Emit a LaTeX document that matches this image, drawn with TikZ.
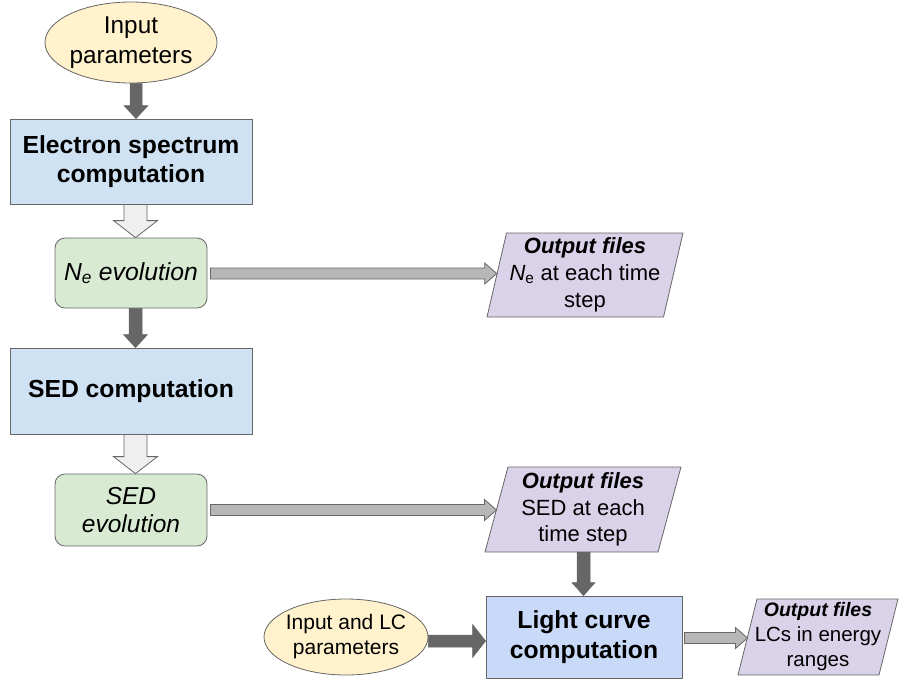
\documentclass[tikz,border=0pt]{standalone}
\usepackage{fontspec}
\setmainfont{Liberation Sans}
\usetikzlibrary{shapes.geometric,calc}
\definecolor{yel}{HTML}{FFF2CC}
\definecolor{blu}{HTML}{CFE2F3}
\definecolor{blu2}{HTML}{C9DAF8}
\definecolor{grn}{HTML}{D9EAD3}
\definecolor{pur}{HTML}{D9D2E9}
\definecolor{edge}{HTML}{666666}
\definecolor{dark}{HTML}{666666}
\definecolor{lite}{HTML}{EFEFEF}
\definecolor{gry}{HTML}{B7B7B7}
\tikzset{
 base/.style={draw=edge, line width=0.8pt, inner sep=0pt, align=center, font=\fontsize{24.7}{29.5}\selectfont},
 inell/.style={base, ellipse, fill=yel, inner sep=2pt},
 procbox/.style={base, rectangle, fill=blu},
 evbox/.style={base, rectangle, rounded corners=10pt, fill=grn},
 parfill/.style={draw=edge, line width=0.8pt, fill=pur},
 lbl/.style={inner sep=0pt, align=center},
 darkarr/.style={fill=dark, draw=dark, line width=0.5pt},
 lightarr/.style={fill=lite, draw=edge, line width=0.8pt},
 grayarr/.style={fill=gry, draw=edge, line width=0.8pt},
}
% parallelogram outline: name, cx, cy, w, h, slant
\newcommand{\outpara}[6]{%
\coordinate (#1bl) at ({#2-#4/2},{#3-#5/2});
\coordinate (#1br) at ({#2+#4/2-#6},{#3-#5/2});
\coordinate (#1tr) at ({#2+#4/2},{#3+#5/2});
\coordinate (#1tl) at ({#2-#4/2+#6},{#3+#5/2});
\draw[parfill] (#1bl) -- (#1tl) -- (#1tr) -- (#1br) -- cycle;
\coordinate (#1w) at ($(#1bl)!0.5!(#1tl)$);
\coordinate (#1s) at ($(#1bl)!0.5!(#1br)$);}
% vertical block arrow: style, from point, to point, dx, halfshaft, halfhead, headlen
\newcommand{\vblk}[7]{%
\draw[#1] let \p1=(#2), \p2=(#3) in
 (\x1+#4-#5,\y1) -- (\x1+#4-#5,\y2+#7) -- (\x1+#4-#6,\y2+#7) -- (\x1+#4,\y2)
 -- (\x1+#4+#6,\y2+#7) -- (\x1+#4+#5,\y2+#7) -- (\x1+#4+#5,\y1) -- cycle;}
% horizontal block arrow: style, from point, to point, dy, halfshaft, halfhead, headlen, startgap
\newcommand{\hblk}[8]{%
\draw[#1] let \p1=(#2), \p2=(#3) in
 (\x1+#8,\y1+#4+#5) -- (\x2-#7,\y1+#4+#5) -- (\x2-#7,\y1+#4+#6) -- (\x2,\y1+#4)
 -- (\x2-#7,\y1+#4-#6) -- (\x2-#7,\y1+#4-#5) -- (\x1+#8,\y1+#4-#5) -- cycle;}
\begin{document}
\begin{tikzpicture}[x=1pt,y=1pt]
\useasboundingbox (0,0) rectangle (899,-681);
% nodes
\node[inell, minimum width=172pt, minimum height=81pt,
 label={[lbl, font=\fontsize{24.3}{30}\selectfont]center:Input\\parameters}] (in1) at (131,-42.5) {\strut};
\node[procbox, minimum width=242pt, minimum height=85pt] (esc) at (131,-161.5)
 {\textbf{Electron spectrum}\\\textbf{computation}};
\node[evbox, minimum width=152pt, minimum height=70pt] (ne) at (131,-273)
 {\textit{N\textsubscript{e} evolution}};
\node[procbox, minimum width=242pt, minimum height=86pt] (sed) at (131,-391)
 {\textbf{SED computation}};
\node[evbox, minimum width=152pt, minimum height=72pt, font=\fontsize{24.5}{28}\selectfont] (sedev) at (131,-510)
 {\textit{SED}\\\textit{evolution}};
\outpara{out1}{585}{-275}{196}{84}{19.5}
\node[lbl, font=\fontsize{22}{27}\selectfont] (out1) at (585,-275)
 {\textbf{\textit{Output files}}\\\textit{N}\textsubscript{e} at each time\\step};
\outpara{out2}{583}{-509.5}{196}{85}{23}
\node[lbl, font=\fontsize{22}{26.5}\selectfont] (out2) at (583,-509.5)
 {\textbf{\textit{Output files}}\\SED at each\\time step};
\node[procbox, fill=blu2, minimum width=196pt, minimum height=82pt] (lc) at (584,-637)
 {\textbf{Light curve}\\\textbf{computation}};
\node[inell, minimum width=164pt, minimum height=76pt,
 label={[lbl, font=\fontsize{21}{25}\selectfont]center:Input and LC\\parameters}] (in2) at (346,-637) {\strut};
\outpara{out3}{818}{-637}{160}{76}{19}
\node[lbl, font=\fontsize{20.5}{25}\selectfont] (out3) at (818,-637)
 {{\fontsize{19.5}{25}\selectfont\textbf{\textit{Output files}}}\\LCs in energy\\ranges};
% connectors
\vblk{darkarr}{in1.south}{esc.north}{5pt}{6pt}{12pt}{13pt}
\vblk{lightarr}{esc.south}{ne.north}{4.5pt}{11.5pt}{22pt}{17pt}
\vblk{darkarr}{ne.south}{sed.north}{4.5pt}{6.5pt}{12pt}{13pt}
\vblk{lightarr}{sed.south}{sedev.north}{4.5pt}{11.5pt}{22pt}{17pt}
\vblk{darkarr}{out2s}{lc.north}{12pt}{6.5pt}{11.5pt}{13pt}
\hblk{grayarr}{ne.east}{out1w}{-0.5pt}{5.5pt}{10.5pt}{12pt}{3pt}
\hblk{grayarr}{sedev.east}{out2w}{0pt}{5.5pt}{10.5pt}{12pt}{3pt}
\hblk{darkarr}{in2.east}{lc.west}{-4pt}{6pt}{16.5pt}{13pt}{0pt}
\hblk{grayarr}{lc.east}{out3w}{-1pt}{5.5pt}{10.5pt}{12pt}{2pt}
\end{tikzpicture}
\end{document}
